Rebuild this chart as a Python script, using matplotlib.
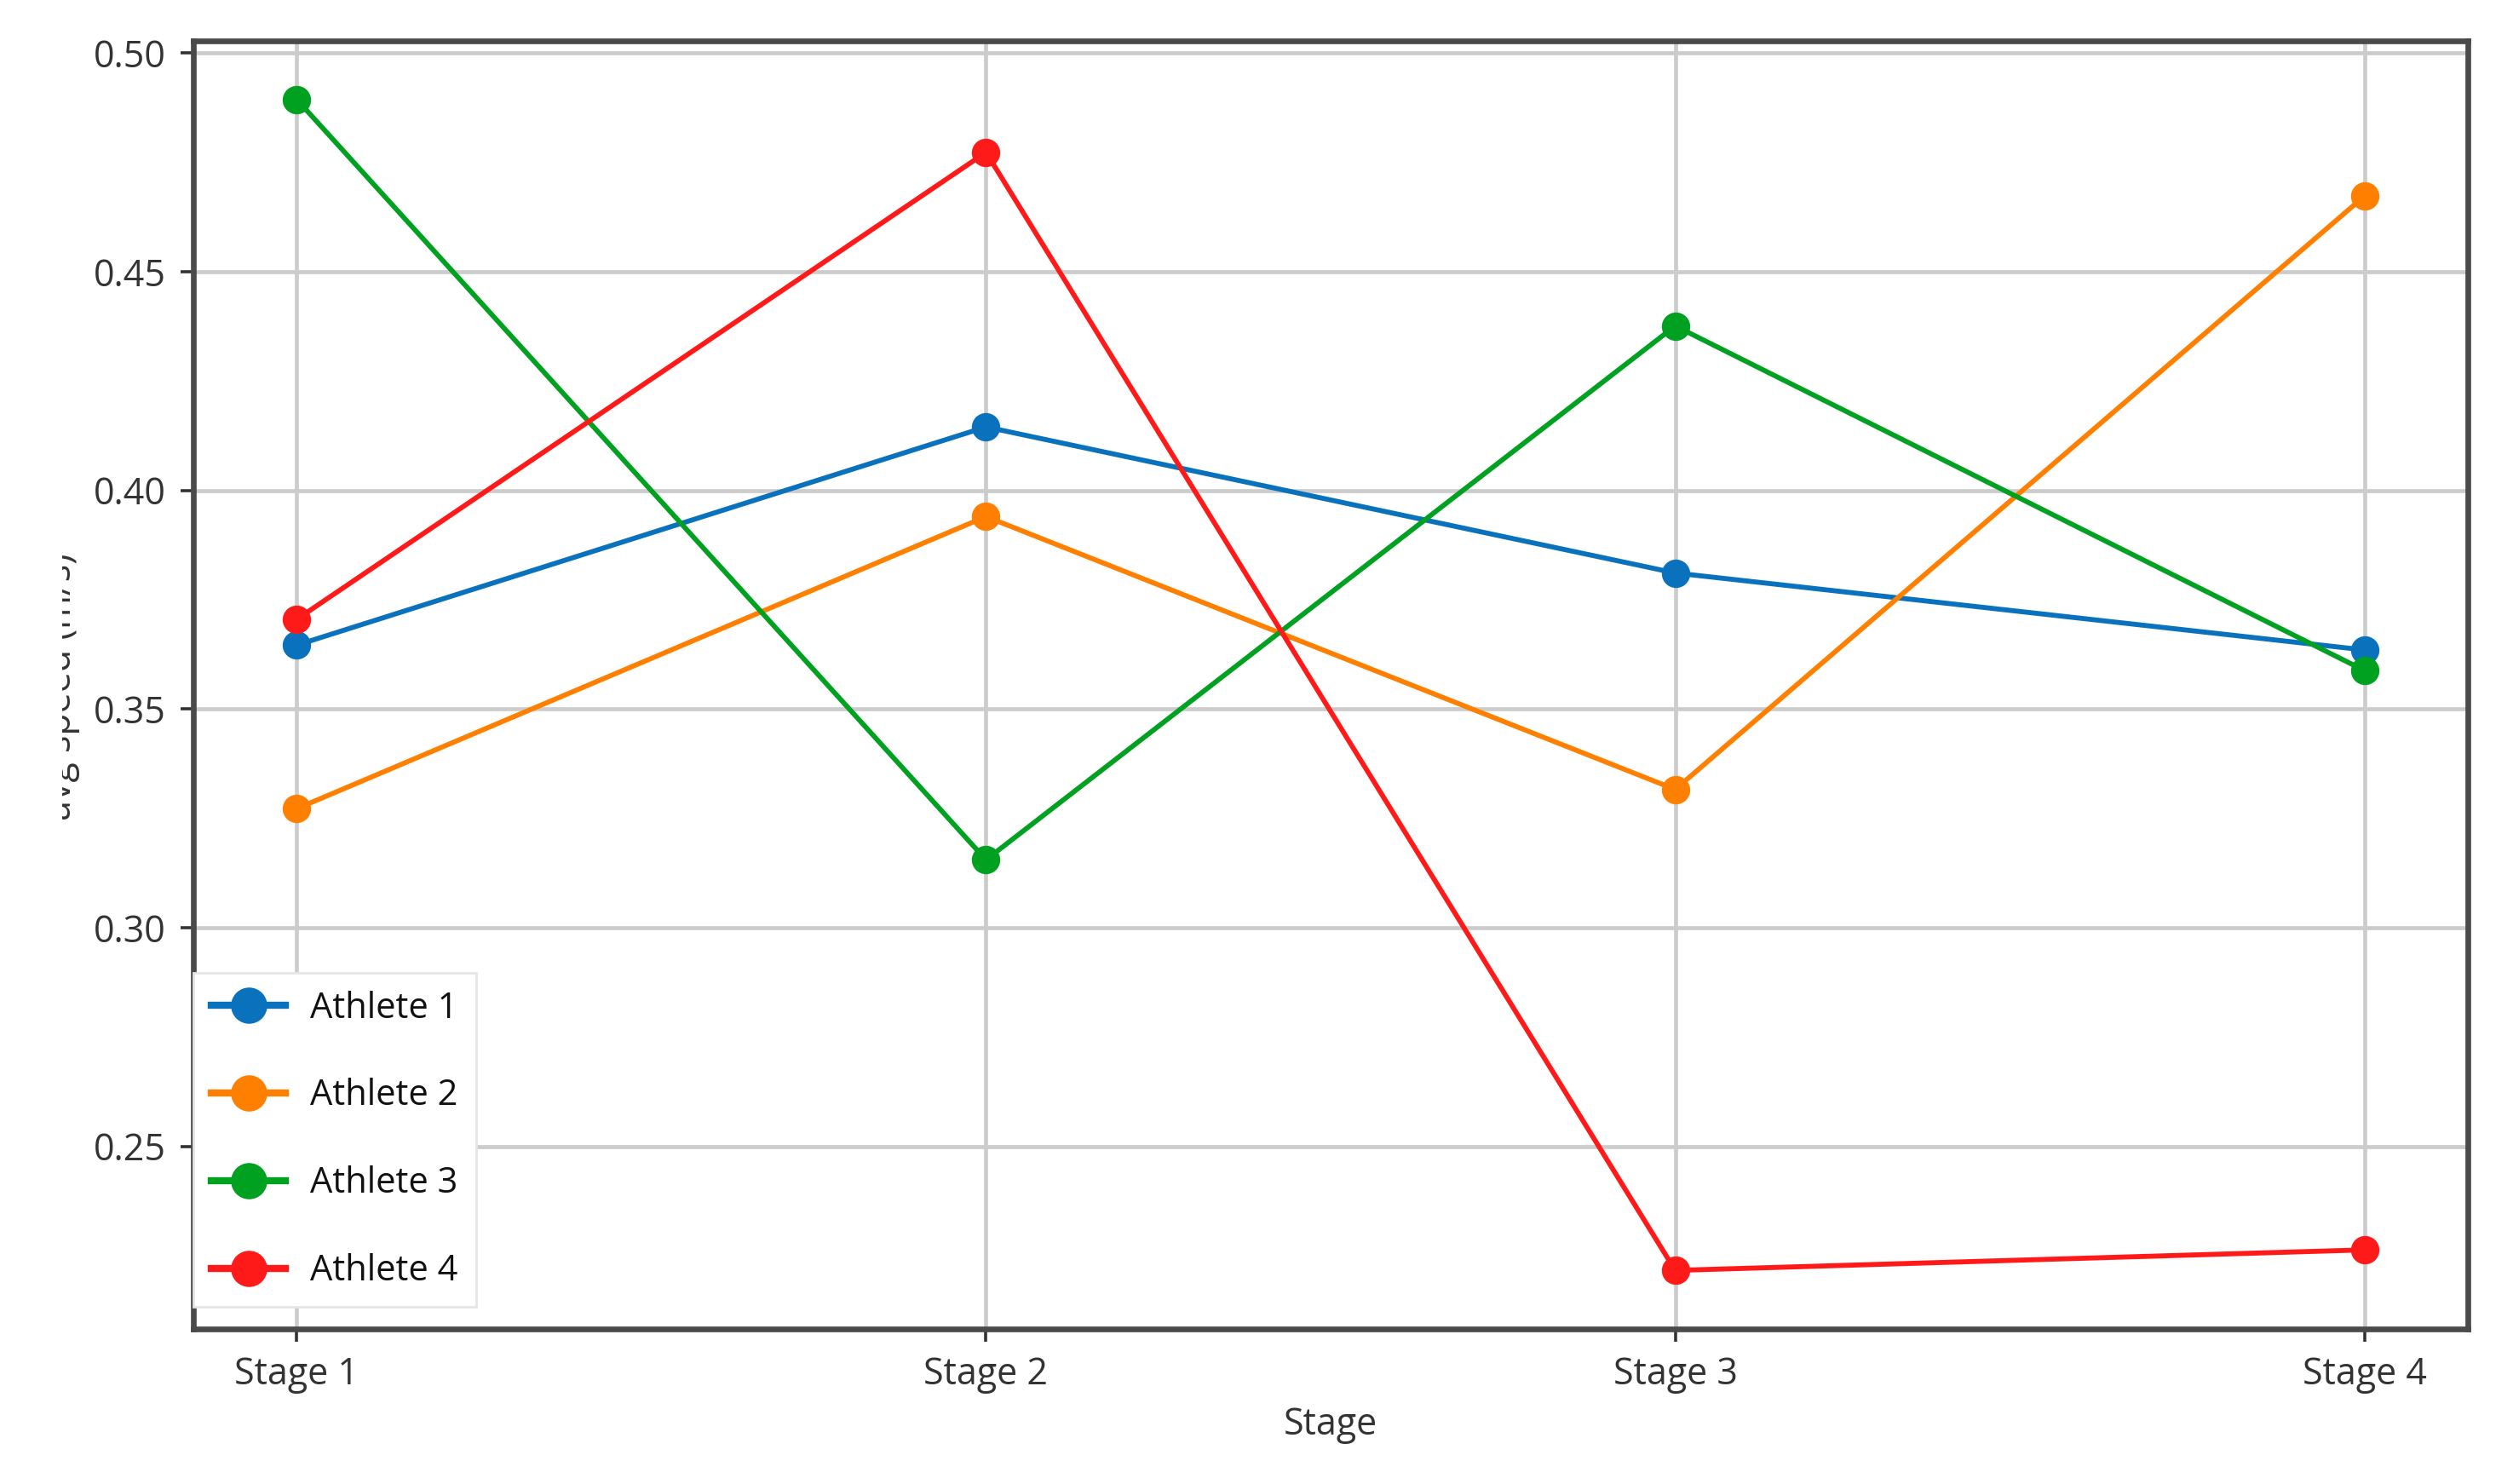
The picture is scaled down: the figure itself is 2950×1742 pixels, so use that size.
import matplotlib
matplotlib.use("Agg")
import matplotlib.pyplot as plt
from matplotlib.transforms import Bbox, TransformedBbox

stages = ["Stage 1", "Stage 2", "Stage 3", "Stage 4"]
athlete_names = ["Athlete 1", "Athlete 2", "Athlete 3", "Athlete 4"]
athlete1 = [0.3646, 0.4145, 0.3811, 0.3635]
athlete2 = [0.3272, 0.3940, 0.3316, 0.4673]
athlete3 = [0.4894, 0.3155, 0.4376, 0.3588]
athlete4 = [0.3705, 0.4773, 0.2216, 0.2263]
series = [athlete1, athlete2, athlete3, athlete4]
colors = ["#0a72bd", "#ff8000", "#00a020", "#ff1a1a"]

plt.rcParams['font.family'] = ['Open Sans', 'DejaVu Sans']

fig = plt.figure(figsize=(14.75, 8.71), dpi=200)
ax = fig.add_axes([227/2950, 1 - 1560/1742, (2897-227)/2950, (1560-48)/1742])

x = list(range(len(stages)))
for name, vals, c in zip(athlete_names, series, colors):
    ax.plot(x, vals, marker='o', color=c, linewidth=2.1, markersize=11, label=name)

ax.set_xticks(x)
ax.set_xticklabels(stages)
ax.set_yticks([0.25, 0.30, 0.35, 0.40, 0.45, 0.50])
ax.set_yticklabels(["0.25", "0.30", "0.35", "0.40", "0.45", "0.50"])
ax.grid(True, color="#cccccc", linewidth=1.7)
ax.set_axisbelow(True)
for s in ax.spines.values():
    s.set_color("#4a4a4a")
    s.set_linewidth(2.4)
ax.tick_params(axis='both', colors="#333333", labelcolor="#333333", labelsize=15.5,
               length=5.5, width=1.3, pad=6)

ax.set_xlabel("Stage", fontsize=15.5, color="#333333", labelpad=5)

ylab = fig.text(72/2950, 1 - 806/1742, "avg speed (m/s)", rotation=90, ha='center',
                va='center', fontsize=15.5, color="#333333")
clip = TransformedBbox(Bbox([[73/2950, 0], [1, 1]]), fig.transFigure)
ylab.set_clip_box(clip)
ylab.set_clip_on(True)

leg = ax.legend(loc='lower left', bbox_to_anchor=(0, 0.0172), borderaxespad=0,
                fancybox=False, framealpha=1,
                edgecolor="#e6e6e6", markerscale=1.3, handlelength=2.1,
                handletextpad=0.7, labelspacing=1.46, borderpad=0.5,
                prop={'family': ['Open Sans'], 'size': 15})
for t in leg.get_texts():
    t.set_color("#111111")
for h in leg.get_lines():
    h.set_linewidth(3.0)

fig.savefig("out.png", dpi=200)
